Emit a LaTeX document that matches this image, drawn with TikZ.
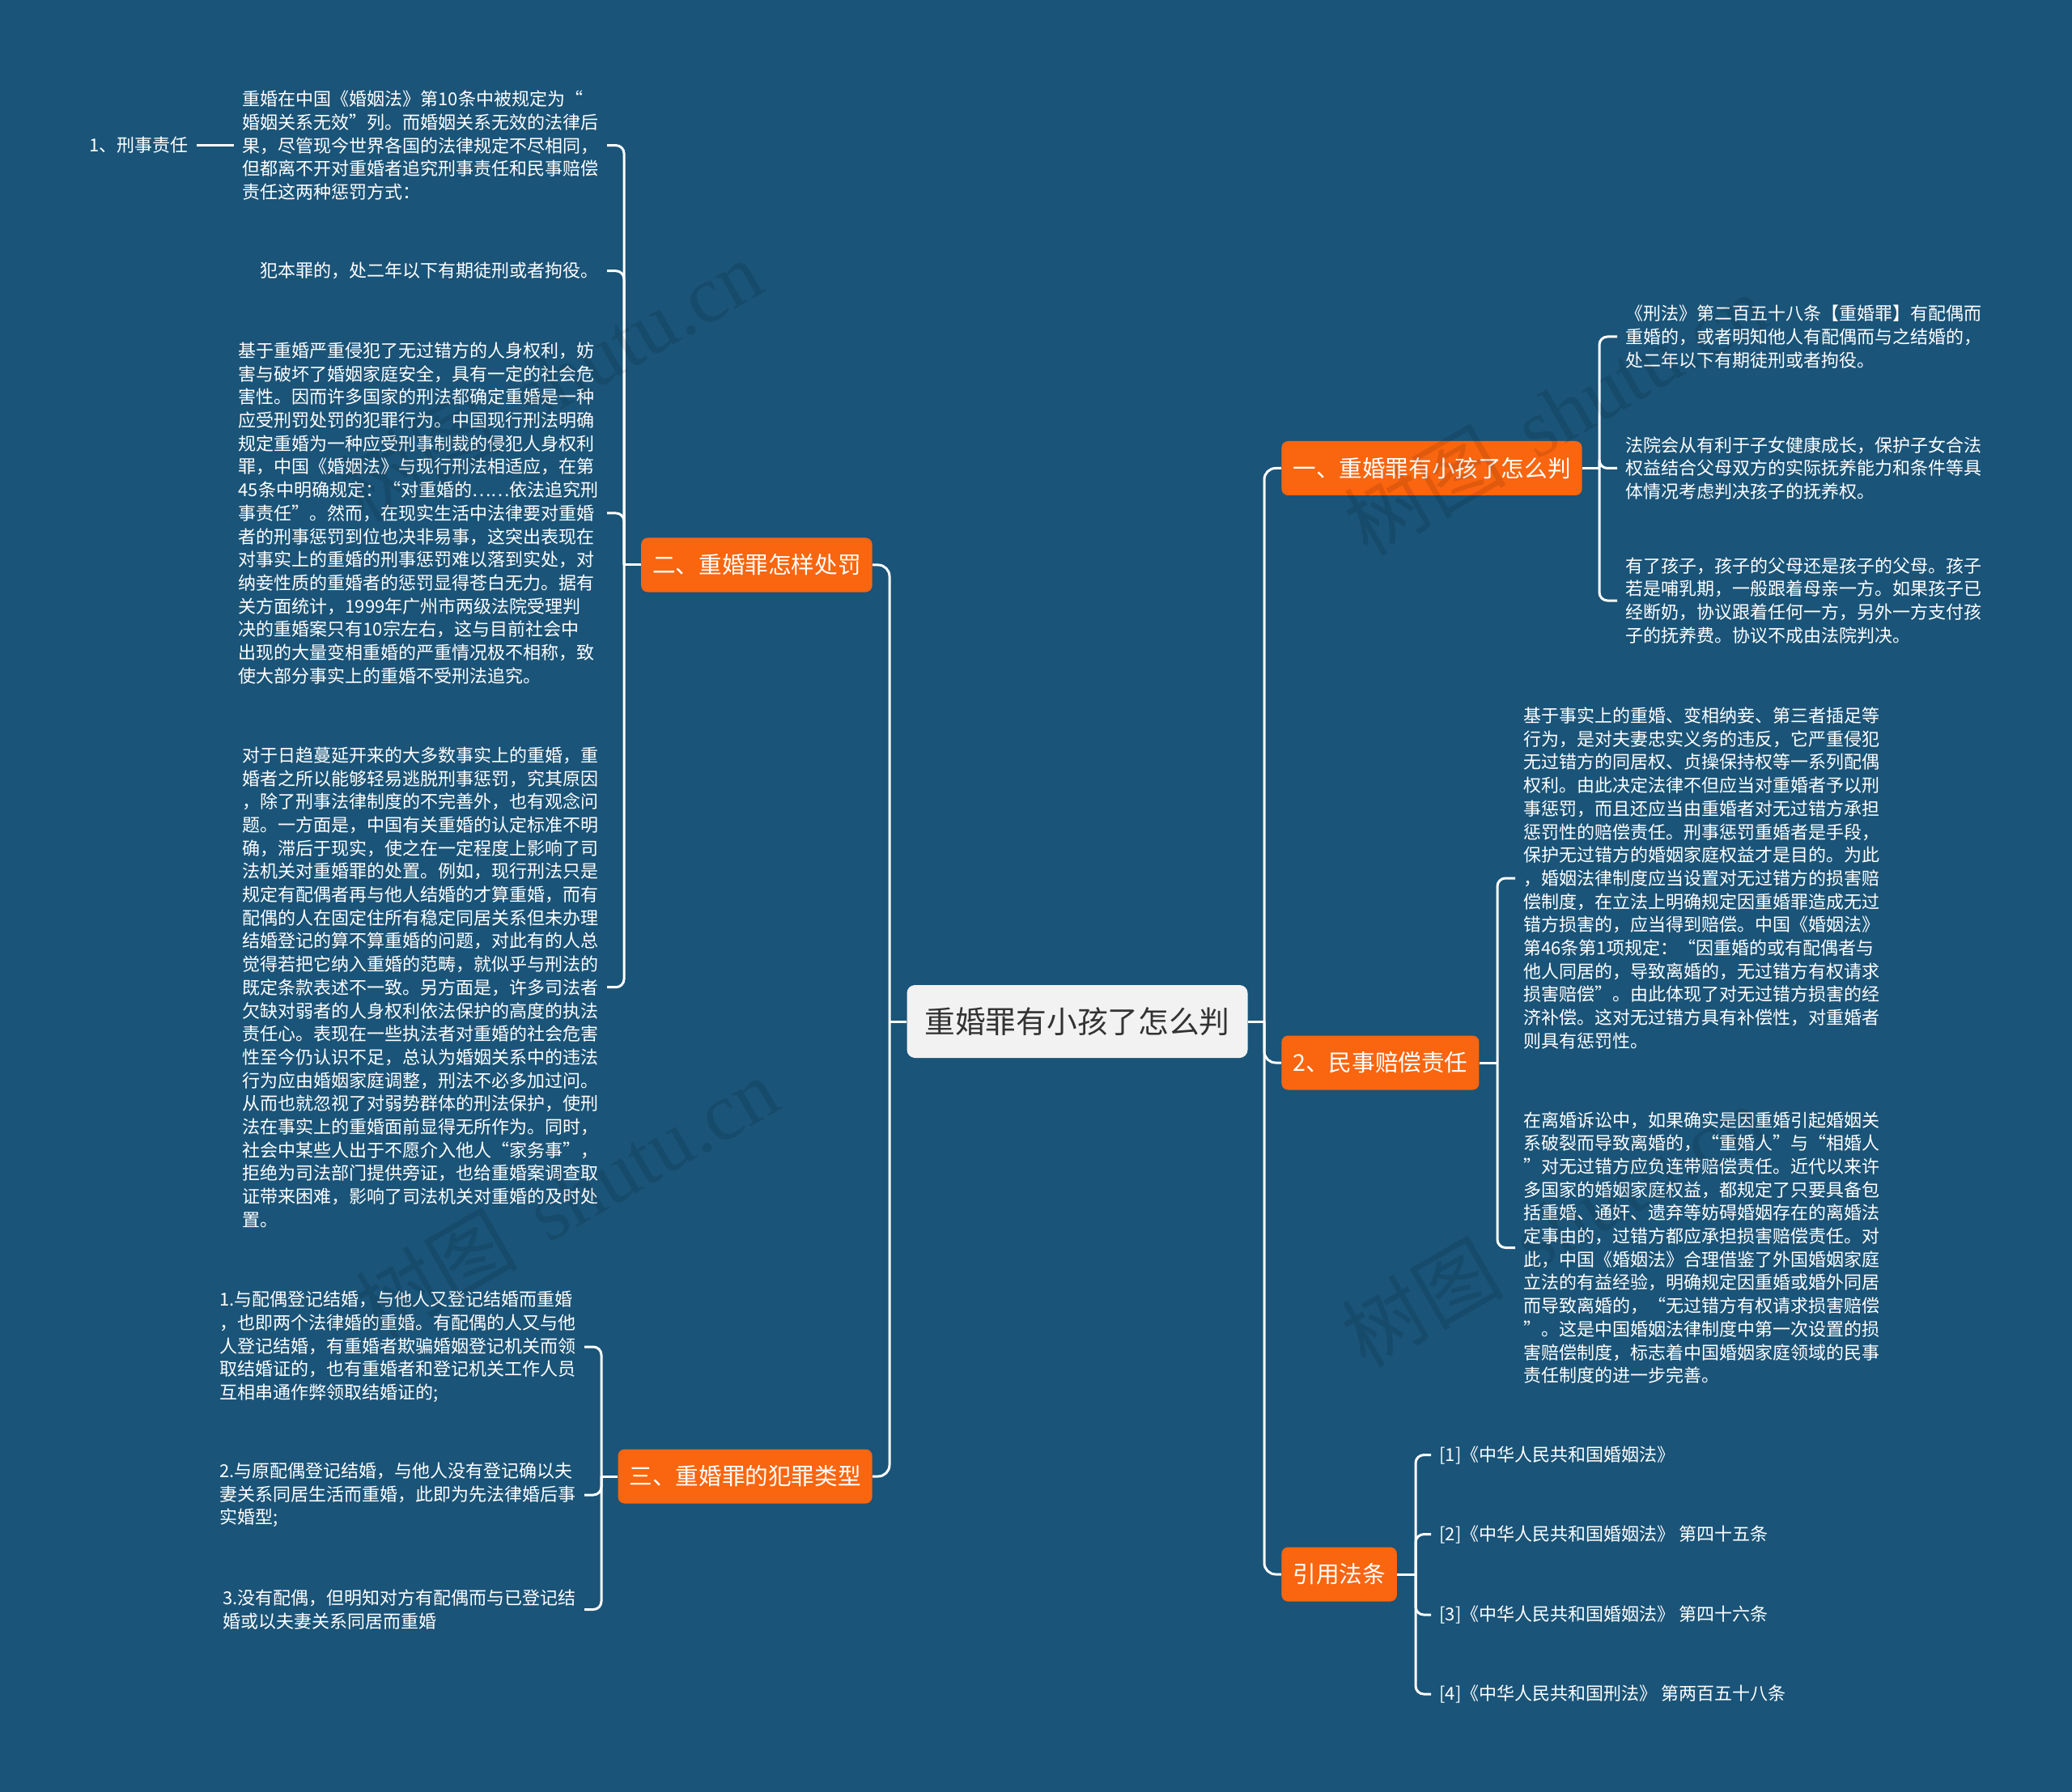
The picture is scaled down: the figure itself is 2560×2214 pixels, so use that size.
\documentclass[tikz,border=0pt]{standalone}
\usepackage{fontspec}
\setmainfont{Noto Sans CJK SC}
\newfontfamily\wmlatin{Liberation Serif}
\definecolor{bg}{HTML}{1A5478}
\definecolor{org}{HTML}{FA650F}
\definecolor{ctr}{HTML}{F2F2F2}
\definecolor{ctrtxt}{HTML}{333333}
\begin{document}
\begin{tikzpicture}[x=0.5pt,y=-0.5pt,
  conn/.style={draw=white, line width=1.5pt},
  hub/.style={fill=ctr, text=ctrtxt, rounded corners=5pt, font=\fontsize{18.85pt}{22pt}\selectfont, inner xsep=11pt, inner ysep=0pt, minimum height=45pt},
  br/.style={fill=org, text=white, rounded corners=4pt, font=\fontsize{14.3pt}{17pt}\selectfont, inner xsep=7pt, inner ysep=0pt, minimum height=33.5pt},
  leaf/.style={text=white, font=\fontsize{11pt}{14.35pt}\selectfont, align=left, inner xsep=5pt, inner ysep=2pt},
  leafR/.style={leaf, anchor=west},
  leafL/.style={leaf, anchor=east},
  wm/.style={text=black, text opacity=0.1, font=\fontsize{50pt}{52pt}\selectfont, rotate=30}
]
\fill[bg] (0,0) rectangle (2560,2214);
\useasboundingbox (0,0) rectangle (2560,2214);

% hub and branches
\node[hub] (hub) at (1331,1262) {重婚罪有小孩了怎么判};
\node[br, anchor=west] (b1) at (1583,578.5) {一、重婚罪有小孩了怎么判};
\node[br, anchor=west] (b2) at (1583,1313) {2、民事赔偿责任};
\node[br, anchor=west] (b3) at (1583,1945) {引用法条};
\node[br, anchor=east] (b4) at (1078,698) {二、重婚罪怎样处罚};
\node[br, anchor=east] (b5) at (1078,1824) {三、重婚罪的犯罪类型};

% bracket coordinates
\coordinate (tr) at (1562,0);
\coordinate (tl) at (1099,0);
\coordinate (x1) at (1976,0);
\coordinate (x2) at (1850,0);
\coordinate (x3) at (1749,0);
\coordinate (x4) at (771,0);
\coordinate (x5) at (743,0);

% right leaves
\node[leafR] (r1a) at (1998,416) {《刑法》第二百五十八条【重婚罪】有配偶而\\重婚的，或者明知他人有配偶而与之结婚的，\\处二年以下有期徒刑或者拘役。};
\node[leafR] (r1b) at (1998,578.5) {法院会从有利于子女健康成长，保护子女合法\\权益结合父母双方的实际抚养能力和条件等具\\体情况考虑判决孩子的抚养权。};
\node[leafR] (r1c) at (1998,742) {有了孩子，孩子的父母还是孩子的父母。孩子\\若是哺乳期，一般跟着母亲一方。如果孩子已\\经断奶，协议跟着任何一方，另外一方支付孩\\子的抚养费。协议不成由法院判决。};

\node[leafR] (r2a) at (1872,1085) {基于事实上的重婚、变相纳妾、第三者插足等\\行为，是对夫妻忠实义务的违反，它严重侵犯\\无过错方的同居权、贞操保持权等一系列配偶\\权利。由此决定法律不但应当对重婚者予以刑\\事惩罚，而且还应当由重婚者对无过错方承担\\惩罚性的赔偿责任。刑事惩罚重婚者是手段，\\保护无过错方的婚姻家庭权益才是目的。为此\\，婚姻法律制度应当设置对无过错方的损害赔\\偿制度，在立法上明确规定因重婚罪造成无过\\错方损害的，应当得到赔偿。中国《婚姻法》\\第46条第1项规定：“因重婚的或有配偶者与\\他人同居的，导致离婚的，无过错方有权请求\\损害赔偿”。由此体现了对无过错方损害的经\\济补偿。这对无过错方具有补偿性，对重婚者\\则具有惩罚性。};
\node[leafR] (r2b) at (1872,1541.5) {在离婚诉讼中，如果确实是因重婚引起婚姻关\\系破裂而导致离婚的，“重婚人”与“相婚人\\”对无过错方应负连带赔偿责任。近代以来许\\多国家的婚姻家庭权益，都规定了只要具备包\\括重婚、通奸、遗弃等妨碍婚姻存在的离婚法\\定事由的，过错方都应承担损害赔偿责任。对\\此，中国《婚姻法》合理借鉴了外国婚姻家庭\\立法的有益经验，明确规定因重婚或婚外同居\\而导致离婚的，“无过错方有权请求损害赔偿\\”。这是中国婚姻法律制度中第一次设置的损\\害赔偿制度，标志着中国婚姻家庭领域的民事\\责任制度的进一步完善。};

\node[leafR] (r3a) at (1768,1797.6) {[1]《中华人民共和国婚姻法》};
\node[leafR] (r3b) at (1768,1895.6) {[2]《中华人民共和国婚姻法》 第四十五条};
\node[leafR] (r3c) at (1768,1995) {[3]《中华人民共和国婚姻法》 第四十六条};
\node[leafR] (r3d) at (1768,2093) {[4]《中华人民共和国刑法》 第两百五十八条};

% left leaves
\node[leafL] (l1a) at (750,179.6) {重婚在中国《婚姻法》第10条中被规定为“\\婚姻关系无效”列。而婚姻关系无效的法律后\\果，尽管现今世界各国的法律规定不尽相同，\\但都离不开对重婚者追究刑事责任和民事赔偿\\责任这两种惩罚方式：};
\node[leafL] (l1x) at (243,179.6) {1、刑事责任};
\node[leafL] (l1b) at (750,334.7) {犯本罪的，处二年以下有期徒刑或者拘役。};
\node[leafL] (l1c) at (750,634) {基于重婚严重侵犯了无过错方的人身权利，妨\\害与破坏了婚姻家庭安全，具有一定的社会危\\害性。因而许多国家的刑法都确定重婚是一种\\应受刑罚处罚的犯罪行为。中国现行刑法明确\\规定重婚为一种应受刑事制裁的侵犯人身权利\\罪，中国《婚姻法》与现行刑法相适应，在第\\45条中明确规定：“对重婚的……依法追究刑\\事责任”。然而，在现实生活中法律要对重婚\\者的刑事惩罚到位也决非易事，这突出表现在\\对事实上的重婚的刑事惩罚难以落到实处，对\\纳妾性质的重婚者的惩罚显得苍白无力。据有\\关方面统计，1999年广州市两级法院受理判\\决的重婚案只有10宗左右，这与目前社会中\\出现的大量变相重婚的严重情况极不相称，致\\使大部分事实上的重婚不受刑法追究。};
\node[leafL] (l1d) at (750,1219.7) {对于日趋蔓延开来的大多数事实上的重婚，重\\婚者之所以能够轻易逃脱刑事惩罚，究其原因\\，除了刑事法律制度的不完善外，也有观念问\\题。一方面是，中国有关重婚的认定标准不明\\确，滞后于现实，使之在一定程度上影响了司\\法机关对重婚罪的处置。例如，现行刑法只是\\规定有配偶者再与他人结婚的才算重婚，而有\\配偶的人在固定住所有稳定同居关系但未办理\\结婚登记的算不算重婚的问题，对此有的人总\\觉得若把它纳入重婚的范畴，就似乎与刑法的\\既定条款表述不一致。另方面是，许多司法者\\欠缺对弱者的人身权利依法保护的高度的执法\\责任心。表现在一些执法者对重婚的社会危害\\性至今仍认识不足，总认为婚姻关系中的违法\\行为应由婚姻家庭调整，刑法不必多加过问。\\从而也就忽视了对弱势群体的刑法保护，使刑\\法在事实上的重婚面前显得无所作为。同时，\\社会中某些人出于不愿介入他人“家务事”，\\拒绝为司法部门提供旁证，也给重婚案调查取\\证带来困难，影响了司法机关对重婚的及时处\\置。};

\node[leafL] (l3a) at (722,1664) {1.与配偶登记结婚，与他人又登记结婚而重婚\\，也即两个法律婚的重婚。有配偶的人又与他\\人登记结婚，有重婚者欺骗婚姻登记机关而领\\取结婚证的，也有重婚者和登记机关工作人员\\互相串通作弊领取结婚证的;};
\node[leafL] (l3b) at (722,1847) {2.与原配偶登记结婚，与他人没有登记确以夫\\妻关系同居生活而重婚，此即为先法律婚后事\\实婚型;};
\node[leafL] (l3c) at (722,1988.5) {3.没有配偶，但明知对方有配偶而与已登记结\\婚或以夫妻关系同居而重婚};

% connectors: hub to branches
\draw[conn] (hub.east) -- (hub.east -| tr);
\foreach \b in {b1,b2,b3}
  \draw[conn, rounded corners=7pt] (hub.east -| tr) |- (\b.west);
\draw[conn] (hub.west) -- (hub.west -| tl);
\foreach \b in {b4,b5}
  \draw[conn, rounded corners=7pt] (hub.west -| tl) |- (\b.east);

% branch 1
\draw[conn] (b1.east) -- (b1.east -| x1);
\foreach \c in {r1a,r1b,r1c}
  \draw[conn, rounded corners=5pt] (b1.east -| x1) |- (\c.west);
% branch 2
\draw[conn] (b2.east) -- (b2.east -| x2);
\foreach \c in {r2a,r2b}
  \draw[conn, rounded corners=5pt] (b2.east -| x2) |- (\c.west);
% branch 3
\draw[conn] (b3.east) -- (b3.east -| x3);
\foreach \c in {r3a,r3b,r3c,r3d}
  \draw[conn, rounded corners=5pt] (b3.east -| x3) |- (\c.west);
% branch 4
\draw[conn] (b4.west) -- (b4.west -| x4);
\foreach \c in {l1a,l1b,l1c,l1d}
  \draw[conn, rounded corners=5pt] (b4.west -| x4) |- (\c.east);
\draw[conn] (l1a.west) -- (l1x.east);
% branch 5
\draw[conn] (b5.west) -- (b5.west -| x5);
\foreach \c in {l3a,l3b,l3c}
  \draw[conn, rounded corners=5pt] (b5.west -| x5) |- (\c.east);

% watermarks
\node[wm] (w1) at (680,470) {树图\hspace{0.4em}{\wmlatin shutu.cn}};
\node[wm] (w2) at (1921,512) {树图\hspace{0.4em}{\wmlatin shutu.cn}};
\node[wm] (w3) at (700,1480) {树图\hspace{0.4em}{\wmlatin shutu.cn}};
\node[wm] (w4) at (1918,1515) {树图\hspace{0.4em}{\wmlatin shutu.cn}};
\end{tikzpicture}
\end{document}
